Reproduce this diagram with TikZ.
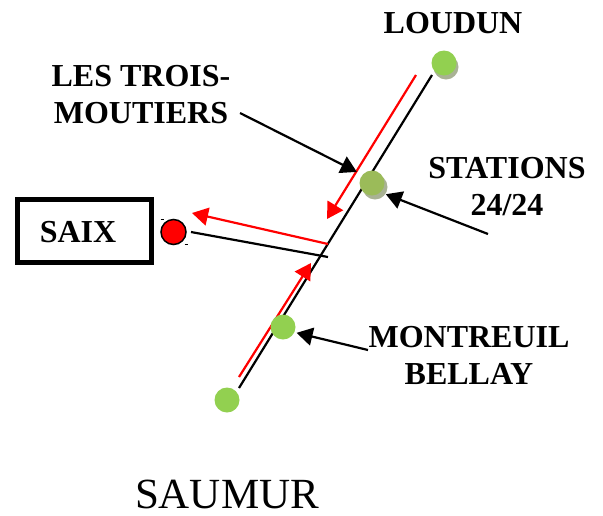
\documentclass[tikz,border=0pt]{standalone}
\usepackage{fontspec}
\setmainfont{Liberation Serif}
\usetikzlibrary{arrows.meta}
\definecolor{stopgreen}{HTML}{92D050}
\definecolor{stationgreen}{HTML}{9BBB59}
\definecolor{stopshadow}{HTML}{A9B294}
\tikzset{
  x=1pt, y=-1pt,
  stoplabel/.style={font=\fontsize{32}{37}\selectfont\bfseries, align=center, inner sep=0pt},
  stopdot/.style={circle, fill=stopgreen, draw=none, minimum size=25pt, inner sep=0pt, outer sep=0pt},
  stationdot/.style={stopdot, fill=stationgreen},
  shadowdot/.style={circle, fill=stopshadow, draw=none, minimum size=25pt, inner sep=0pt, outer sep=0pt},
  blackline/.style={draw=black, line width=2.2pt},
  redline/.style={draw=red, line width=2.2pt},
  blackarrow/.style={blackline, -{Triangle[length=16pt,width=18pt]}},
  redarrow/.style={redline, -{Triangle[length=16pt,width=18pt]}},
}
\begin{document}
\begin{tikzpicture}
\useasboundingbox (0,0) rectangle (603,515);
% free ends of the lines
\coordinate (mainS) at (239,388);
\coordinate (mainN) at (432,75);
\coordinate (redNtop) at (416,75);
\coordinate (redNtip) at (327,219);
\coordinate (redWstart) at (328,244);
\coordinate (redWtip) at (192,213);
\coordinate (blackWa) at (191,232);
\coordinate (blackWb) at (328,257);
\coordinate (redSstart) at (239,377);
\coordinate (redStip) at (311,263);
\coordinate (fromTrois) at (240,113);
\coordinate (fromStations) at (488,234);
\coordinate (fromMontreuil) at (368,350);
% lines
\draw[blackline] (mainS) -- (mainN);
\draw[redarrow] (redNtop) -- (redNtip);
\draw[redarrow] (redWstart) -- (redWtip);
\draw[blackline] (blackWa) -- (blackWb);
\draw[redarrow] (redSstart) -- (redStip);
% stops
\node[shadowdot] at (446,67) {};
\node[shadowdot] at (375,187) {};
\node[stopdot] (loudunDot) at (444,63) {};
\node[stationdot] (stationDot) at (372,183) {};
\node[stopdot] (montreuilDot) at (283,327) {};
\node[stopdot] (saumurDot) at (227,400) {};
% Saix
\node[circle, fill=red, draw=black, line width=1.5pt, minimum size=25pt, inner sep=0pt, outer sep=0pt] (saixDot) at (173.5,232) {};
\draw[black, line width=1pt] (160.5,219) -- (163.5,219);
\draw[black, line width=1pt] (184.5,244) -- (187.5,244);
\node[draw=black, line width=5pt, minimum width=134pt, minimum height=63pt, inner sep=0pt] (saixBox) at (84.3,231) {};
% labels
\node[stoplabel] (loudun) at (453,23) {LOUDUN};
\node[stoplabel] (trois) at (141,95) {LES TROIS-\\[0pt]MOUTIERS};
\node[stoplabel] (stations) at (507,187) {STATIONS\\[0pt]24/24};
\node[stoplabel] (montreuil) at (469,355) {MONTREUIL\\[0pt]BELLAY};
\node[stoplabel] (saix) at (78,232) {SAIX};
\node[font=\fontsize{43}{50}\selectfont, inner sep=0pt] (saumur) at (227,494) {SAUMUR};
% pointers
\draw[blackarrow, shorten >=6.4pt] (fromTrois) -- (stationDot.139);
\draw[blackarrow, shorten >=5.7pt] (fromStations) -- (stationDot.-47);
\draw[blackarrow, shorten >=2.3pt] (fromMontreuil) -- (montreuilDot.-25);
\end{tikzpicture}
\end{document}
